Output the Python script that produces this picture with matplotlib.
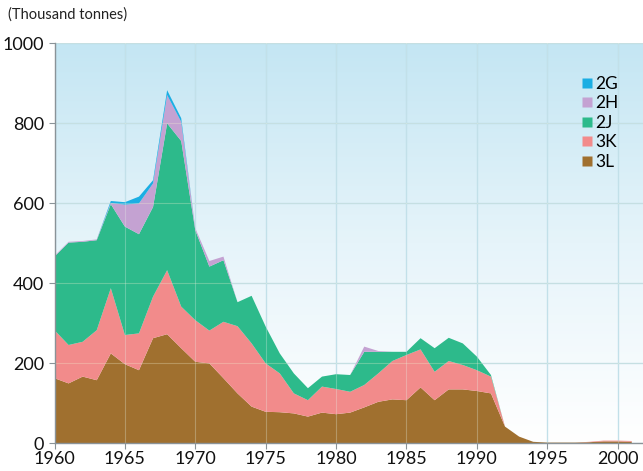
import numpy as np
import matplotlib.pyplot as plt
from matplotlib.lines import Line2D
from matplotlib.colors import LinearSegmentedColormap

plt.rcParams['font.family'] = ['Lato', 'DejaVu Sans']

years = list(range(1960, 2002))

# catches by division (thousand tonnes)
div_3L = [162, 149, 166, 157, 224, 197, 182, 262, 272, 237,
          203, 199, 162, 124, 91, 78, 77, 74, 66, 76,
          72, 76, 89, 103, 109, 107, 139, 107, 134, 134,
          130, 124, 41, 16, 3, 1, 1, 1, 2, 4,
          4, 3]
div_3K = [120, 96, 87, 125, 163, 73, 92, 104, 160, 104,
          104, 82, 141, 168, 158, 121, 97, 50, 41, 65,
          63, 52, 56, 71, 96, 113, 95, 71, 71, 61,
          52, 42, 0, 0, 0, 0, 0, 0, 1, 2,
          2, 2]
div_2J = [184, 256, 250, 225, 210, 271, 248, 224, 367, 414,
          225, 160, 154, 60, 119, 92, 50, 50, 30, 25,
          37, 42, 83, 54, 23, 8, 28, 59, 58, 54,
          34, 4, 0, 0, 0, 0, 0, 0, 0, 0,
          0, 0]
div_2H = [2, 2, 2, 2, 3, 55, 77, 59, 71, 48,
          5, 14, 9, 0, 0, 0, 0, 0, 0, 0,
          0, 0, 13, 2, 0, 0, 0, 0, 0, 0,
          0, 0, 0, 0, 0, 0, 0, 0, 0, 0,
          0, 0]
div_2G = [0, 0, 0, 0, 5, 6, 17, 8, 12, 9,
          0, 0, 0, 0, 0, 0, 0, 0, 0, 0,
          0, 0, 0, 0, 0, 0, 0, 0, 0, 0,
          0, 0, 0, 0, 0, 0, 0, 0, 0, 0,
          0, 0]

labels = ['3L', '3K', '2J', '2H', '2G']
colors = ['#A0702F', '#F28B8B', '#2DBA8B', '#C4A2D2', '#1BAEE3']

x_ticks = list(range(1960, 2001, 5))
y_ticks = list(range(0, 1001, 200))

fig = plt.figure(figsize=(6.43, 4.71), dpi=100)
ax = fig.add_axes([54.5 / 643, 28 / 471, (643 - 54.5) / 643, 400 / 471])

# sky-blue to white background
grad = np.linspace(0, 1, 256).reshape(-1, 1)
cmap = LinearSegmentedColormap.from_list('bg', ['#C4E6F3', '#E6F4FA', '#FFFFFF'])
ax.imshow(grad, cmap=cmap, aspect='auto', extent=[0, 1, 0, 1],
          transform=ax.transAxes, zorder=0, origin='upper')

ax.stackplot(years, div_3L, div_3K, div_2J, div_2H, div_2G,
             colors=colors, linewidth=0, zorder=2)

ax.set_xlim(1960, 2001.8)
ax.set_ylim(0, 1000)
ax.set_xticks(x_ticks)
ax.set_yticks(y_ticks)
ax.grid(True, color='#B3D9EA', linewidth=0.9, zorder=1)
ax.set_axisbelow(True)
# faint trace of the grid over the filled areas
for xt in x_ticks[1:]:
    ax.axvline(xt, color='#E8F2E8', linewidth=0.8, alpha=0.3, zorder=2.5)
for yt in y_ticks[1:]:
    ax.axhline(yt, color='#F0F0D0', linewidth=0.8, alpha=0.3, zorder=2.5)

for s in ['top', 'right']:
    ax.spines[s].set_visible(False)
for s in ['left', 'bottom']:
    ax.spines[s].set_color('#8A9398')
    ax.spines[s].set_linewidth(1.0)
    ax.spines[s].set_zorder(3)
ax.tick_params(direction='out', length=4, color='#8A9398', labelsize=13,
               labelcolor='#111111')
ax.tick_params(axis='x', pad=2)

fig.text(8 / 643, 1 - 15 / 471, '(Thousand tonnes)', fontsize=10.5,
         color='#222222', va='center', ha='left')

handles = [Line2D([], [], marker='s', linestyle='', markersize=7,
                  markerfacecolor=c, markeredgecolor='none')
           for c in colors[::-1]]
ax.legend(handles, labels[::-1], loc='upper left', bbox_to_anchor=(0.885, 0.935),
          frameon=False, handlelength=0.6, handletextpad=0.15,
          labelspacing=0.2, fontsize=12.5, borderaxespad=0)

fig.savefig('out.png', dpi=100)
